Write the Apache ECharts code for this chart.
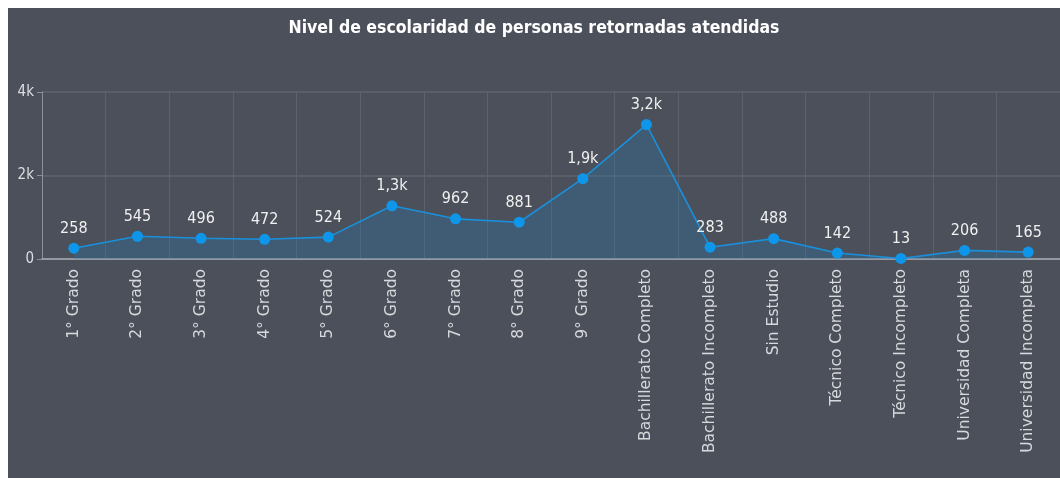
<!DOCTYPE html>
<html>
<head>
<meta charset="utf-8">
<script src="https://cdn.jsdelivr.net/npm/echarts@6/dist/echarts.min.js"></script>
<style>
  html, body { margin: 0; padding: 0; background: #ffffff; }
  #chart { position: absolute; left: 8px; top: 8px; width: 1052px; height: 470px; }
</style>
</head>
<body>
<div id="chart"></div>
<script>
var chartDom = document.getElementById('chart');
var myChart = echarts.init(chartDom);

const categories = [
    '1° Grado', '2° Grado', '3° Grado', '4° Grado', '5° Grado', '6° Grado',
    '7° Grado', '8° Grado', '9° Grado', 'Bachillerato Completo',
    'Bachillerato Incompleto', 'Sin Estudio', 'Técnico Completo',
    'Técnico Incompleto', 'Universidad Completa', 'Universidad Incompleta'
];
const personas = [258, 545, 496, 472, 524, 1275, 962, 881, 1925, 3220, 283, 488, 142, 13, 206, 165];
const yTicks = [0, 2000, 4000];

const lineColor = '#1a90dc';
const condensed = "'DejaVu Sans Condensed', 'DejaVu Sans'";

function fmtK(v) {
    if (v >= 1000) {
        return (v / 1000).toFixed(1).replace('.', ',') + 'k';
    }
    return String(v);
}

var option = {
    backgroundColor: '#4b505b',
    title: {
        text: 'Nivel de escolaridad de personas retornadas atendidas',
        left: 'center',
        top: 6,
        textStyle: {
            color: '#ffffff',
            fontFamily: condensed,
            fontWeight: 'bold',
            fontSize: 17.5
        }
    },
    grid: {
        left: 34,
        right: -7,
        top: 84,
        bottom: 219,
        containLabel: false
    },
    xAxis: {
        type: 'category',
        data: categories,
        boundaryGap: true,
        axisLine: { lineStyle: { color: '#a9adb4', width: 1.5 } },
        axisTick: { alignWithLabel: true, length: 6, lineStyle: { color: '#8c9098' } },
        splitLine: { show: true, lineStyle: { color: '#5c616b', width: 1 } },
        axisLabel: {
            rotate: 90,
            interval: 0,
            margin: 10,
            color: '#d8d9dc',
            fontFamily: 'DejaVu Sans',
            fontSize: 15.5
        }
    },
    yAxis: {
        type: 'value',
        min: yTicks[0],
        max: yTicks[yTicks.length - 1],
        interval: 2000,
        axisLine: { show: true, lineStyle: { color: '#8c9098' } },
        axisTick: { show: true, length: 5, lineStyle: { color: '#8c9098' } },
        splitLine: { lineStyle: { color: '#5e636d', width: 1.5 } },
        axisLabel: {
            margin: 8,
            color: '#dcdde0',
            fontFamily: condensed,
            fontSize: 15,
            formatter: function (v) { return v === 0 ? '0' : (v / 1000) + 'k'; }
        }
    },
    series: [
        {
            name: 'Personas',
            type: 'line',
            data: personas,
            symbol: 'circle',
            symbolSize: 11,
            lineStyle: { color: lineColor, width: 1.6 },
            itemStyle: { color: '#0e96ea' },
            areaStyle: { color: 'rgba(40, 120, 170, 0.45)' },
            label: {
                show: true,
                position: 'top',
                distance: 6,
                color: '#f0f0f0',
                fontFamily: condensed,
                fontSize: 16,
                formatter: function (p) { return fmtK(p.value); }
            }
        }
    ]
};

option && myChart.setOption(option);
</script>
</body>
</html>
